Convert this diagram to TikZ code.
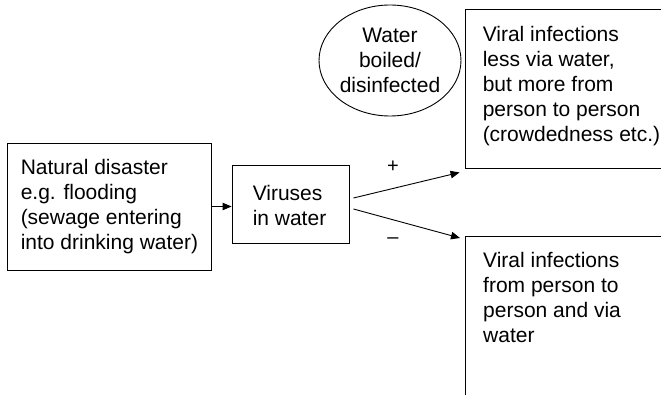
\documentclass[tikz,border=0pt]{standalone}
\usepackage{fontspec}
\setmainfont{Liberation Sans}
\usetikzlibrary{shapes.geometric,arrows.meta}
\begin{document}
\begin{tikzpicture}[x=1pt,y=-1pt,
  box/.style={draw,line width=0.9pt,inner sep=0pt},
  txt/.style={align=left,inner sep=0pt,font=\fontsize{21}{25}\selectfont},
  conn/.style={line width=0.9pt,-{Triangle[length=9pt,width=7.5pt]}},
  sign/.style={inner sep=0pt,font=\fontsize{20}{24}\selectfont}]
\useasboundingbox (0,0) rectangle (661,395);
\clip (0,0) rectangle (661,395);
% left box
\node[box,minimum width=204pt,minimum height=127pt] (lb) at (109,206.5) {};
\node[txt,anchor=west] (lbt) at ([xshift=14pt]lb.west) {Natural disaster\\e.g. flooding\\(sewage entering\\into drinking water)};
% viruses box
\node[box,minimum width=117pt,minimum height=78pt] (vir) at (290.5,204) {};
\node[txt,anchor=west] (virt) at ([xshift=21pt,yshift=-1pt]vir.west) {Viruses\\in water};
% ellipse
\node[ellipse,draw,line width=0.9pt,minimum width=138pt,minimum height=111pt,inner sep=0pt,
      align=center,font=\fontsize{21}{25}\selectfont] (ell) at (390,60.5) {Water\\boiled/\\disinfected};
% top right box
\node[box,minimum width=255pt,minimum height=159pt] (tr) at (592.5,88.5) {};
\node[txt,anchor=west] (trt) at ([xshift=18pt,yshift=2pt]tr.west) {Viral infections\\less via water,\\but more from\\person to person\\(crowdedness etc.)};
% bottom right box
\node[box,minimum width=255pt,minimum height=200pt,anchor=north west] (br) at (465,236) {};
\node[txt,anchor=north west] (brt) at ([xshift=18pt,yshift=-16pt]br.north west) {Viral infections\\from person to\\person and via\\water};
% connectors
\draw[conn] (lb.east) -- (lb.east -| vir.west);
\draw[conn] ([xshift=4pt,yshift=6pt]vir.east) -- ([xshift=-5pt,yshift=-4pt]tr.south west);
\draw[conn] ([xshift=4pt,yshift=-5pt]vir.east) -- ([xshift=-5pt,yshift=-2pt]br.north west);
% signs
\node[sign] (plus) at (393,167) {+};
\node[sign] (minus) at (393,241) {–};
\end{tikzpicture}
\end{document}
